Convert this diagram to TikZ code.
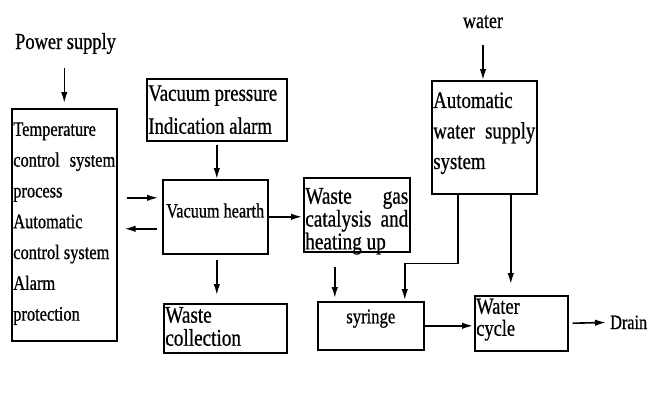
\documentclass[tikz,border=0pt]{standalone}
\usepackage{fontspec}
\setmainfont{Liberation Serif}[FakeStretch=0.8,FakeBold=0.7]
\usetikzlibrary{arrows.meta}
% width, height, top space, font size, line skip, text
\newcommand{\bt}[6]{\parbox[c][#2][t]{#1}{\fontsize{#4}{#5}\selectfont\raggedright\vspace*{#3}#6\par}}
\tikzset{
  box/.style={draw, line width=1.6pt, inner xsep=1.5pt, inner ysep=0pt, anchor=north west},
  arr/.style={-{Latex[length=11pt,width=6.5pt]}, line width=1.6pt},
  lbl/.style={inner sep=0pt, anchor=base west}
}
\begin{document}
\begin{tikzpicture}[x=1pt,y=-1pt]
\fill[white] (0,0) rectangle (650,407);
\useasboundingbox (0,0) rectangle (650,407);

% free labels
\node[lbl, font=\fontsize{23}{26}\selectfont] (power) at (15,49) {Power supply};
\node[inner sep=0pt, anchor=base, font=\fontsize{22.5}{26}\selectfont] (water) at (483,28) {water};
\node[lbl, font=\fontsize{20.3}{24}\selectfont] (drain) at (610,329) {Drain};

% boxes
\node[box] (ctrl) at (11,108) {\bt{102pt}{232pt}{13.6pt}{20.5}{30.8}{Temperature\\control\hfill system\\process\\Automatic\\control system\\Alarm\\protection}};
\node[box] (vpa) at (146,78) {\bt{137pt}{62pt}{6.6pt}{23.5}{33}{Vacuum pressure\\Indication alarm}};
\node[box] (hearth) at (162,179) {\bt{102pt}{74pt}{23.6pt}{20.3}{24}{\centering Vacuum hearth}};
\node[box] (wgas) at (303,177) {\bt{103pt}{74pt}{10.2pt}{24}{19.6}{Waste\hfill gas\\catalysis\hfill and\\heating up}};
\node[box] (wcol) at (163,303) {\bt{120pt}{49pt}{3.2pt}{24}{23}{Waste\\collection}};
\node[box] (awss) at (431,80) {\bt{102pt}{113pt}{11.6pt}{23.5}{30.5}{Automatic\\water\hfill supply\\system}};
\node[box] (syr) at (317,301) {\bt{103pt}{48pt}{7.7pt}{20.8}{24}{\centering syringe}};
\node[box] (wcyc) at (474,295) {\bt{90pt}{55pt}{2.9pt}{23}{22}{Water\\cycle}};

% helper coordinates
\coordinate (h1) at ([yshift=19pt]hearth.west);
\coordinate (h2) at ([yshift=-12pt]hearth.west);
\coordinate (a1) at ([xshift=-26.5pt]awss.south);
\coordinate (a2) at ([xshift=26.5pt]awss.south);
\coordinate (s1) at ([xshift=34pt]syr.north);
\coordinate (s2) at ([xshift=-36pt]syr.north);

% connectors
\draw[arr, shorten <=14pt, shorten >=5pt] (power.south -| ctrl.north) -- (ctrl.north);
\draw[arr, shorten <=3pt] (vpa.south) -- (vpa.south |- hearth.north);
\draw[arr, shorten <=9pt, shorten >=4pt] (ctrl.east |- h1) -- (h1);
\draw[arr, shorten <=5pt, shorten >=7pt] (h2) -- (ctrl.east |- h2);
\draw[arr, shorten >=1pt] (hearth.east) -- (hearth.east -| wgas.west);
\draw[arr, shorten <=5pt, shorten >=8pt] (vpa.south |- hearth.south) -- (vpa.south |- wcol.north);
\draw[arr, shorten <=17pt] (water.south) -- (water.south |- awss.north);
\draw[arr, shorten >=1pt] (a1) -- ++(0,69) -| (s1);
\draw[arr, shorten >=11pt] (a2) -- (a2 |- wcyc.north);
\draw[arr, shorten <=14pt, shorten >=3pt] (s2 |- wgas.south) -- (s2);
\draw[arr, shorten >=1pt] (syr.east) -- (syr.east -| wcyc.west);
\draw[arr, shorten <=4pt, shorten >=4pt] (wcyc.east) -- (drain.west);
\end{tikzpicture}
\end{document}
